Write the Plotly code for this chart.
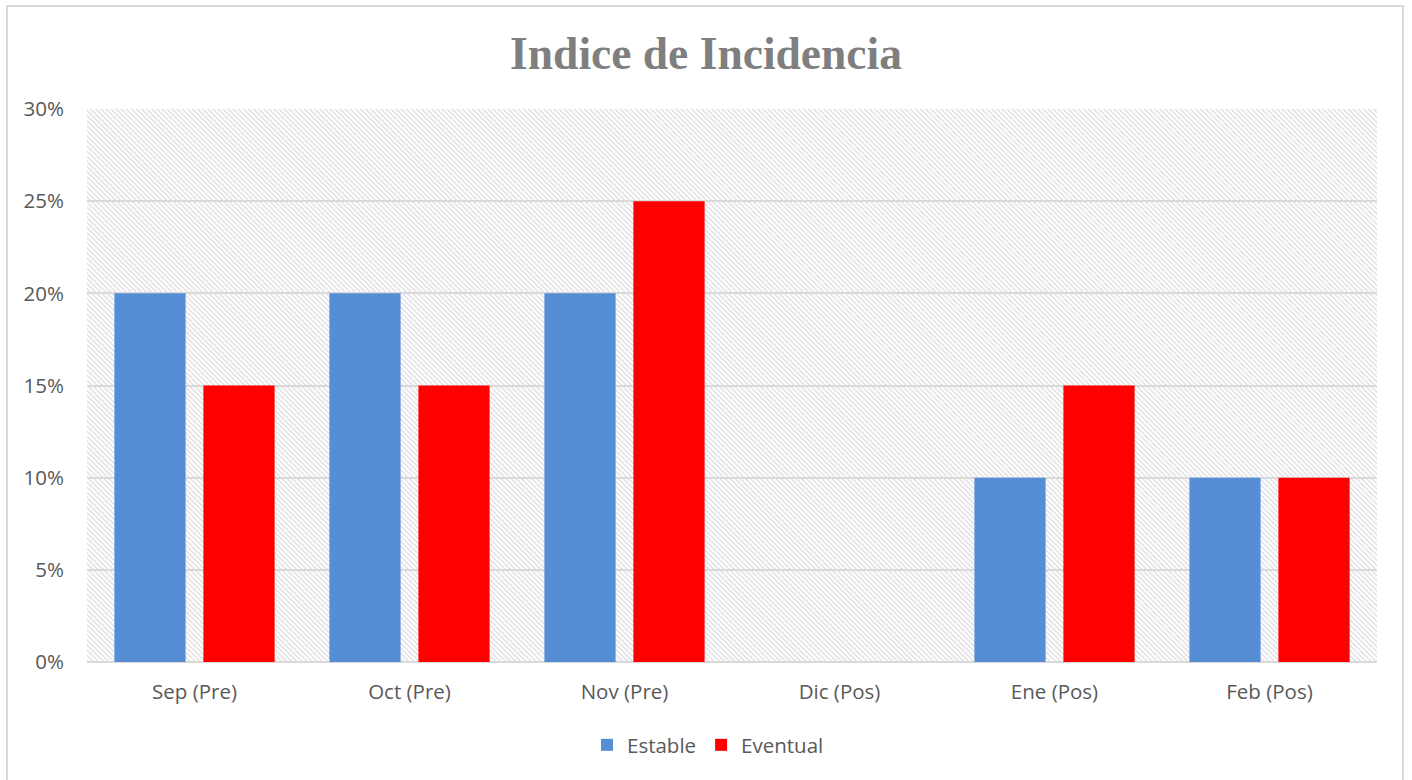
import base64
import plotly.graph_objects as go

categories = ["Sep (Pre)", "Oct (Pre)", "Nov (Pre)", "Dic (Pos)", "Ene (Pos)", "Feb (Pos)"]
estable = [0.20, 0.20, 0.20, 0.0, 0.10, 0.10]
eventual = [0.15, 0.15, 0.25, 0.0, 0.15, 0.10]
y_ticks = [0, 0.05, 0.10, 0.15, 0.20, 0.25, 0.30]
y_tick_labels = ["0%", "5%", "10%", "15%", "20%", "25%", "30%"]

W, H = 1412, 780
ML, MR, MT, MB = 87, 35, 109, 118
PW, PH = W - ML - MR, H - MT - MB

svg = f'''<svg xmlns="http://www.w3.org/2000/svg" width="{PW}" height="{PH}" viewBox="0 0 {PW} {PH}" preserveAspectRatio="none">
<defs><pattern id="h" patternUnits="userSpaceOnUse" width="3.6" height="3.6" patternTransform="rotate(45)">
<line x1="0" y1="1" x2="3.6" y2="1" stroke="#d9d9d9" stroke-width="1.2"/></pattern></defs>
<rect width="100%" height="100%" fill="#ffffff"/><rect width="100%" height="100%" fill="url(#h)"/></svg>'''
src = "data:image/svg+xml;base64," + base64.b64encode(svg.encode()).decode()

fig = go.Figure()
fig.add_trace(go.Bar(x=categories, y=estable, name="Estable", marker=dict(color="#558ED5", line=dict(width=0))))
fig.add_trace(go.Bar(x=categories, y=eventual, name="Eventual", marker=dict(color="#FF0000", line=dict(width=0))))

tick_font = dict(family="Open Sans", size=20.5, color="#595959")

fig.update_layout(
    width=W, height=H,
    margin=dict(l=ML, r=MR, t=MT, b=MB),
    paper_bgcolor="white", plot_bgcolor="rgba(0,0,0,0)",
    barmode="group", bargap=0.172, bargroupgap=0.2,
    title=dict(text="<b>Indice de Incidencia</b>", x=0.5, xref="container", xanchor="center",
               y=1 - 53 / H, yref="container", yanchor="middle",
               font=dict(family="Liberation Serif", size=45.5, color="#7f7f7f")),
    xaxis=dict(tickfont=tick_font, showgrid=False, showline=False, zeroline=False, ticks="",
               ticklabelstandoff=15),
    yaxis=dict(range=[0, 0.30], tickvals=y_ticks, ticktext=y_tick_labels, tickfont=tick_font,
               showgrid=True, gridcolor="#d9d9d9", gridwidth=1.5,
               zeroline=True, zerolinecolor="#d9d9d9", zerolinewidth=2,
               showline=False, ticks="", ticklabelstandoff=22),
    legend=dict(orientation="h", x=(708 - ML) / PW, xanchor="center", y=(MT + PH - 745) / PH, yanchor="middle",
                font=dict(family="Open Sans", size=20.5, color="#595959"), itemwidth=30,
                traceorder="normal"),
    images=[dict(source=src, xref="paper", yref="paper", x=0, y=1, sizex=1, sizey=1,
                 sizing="stretch", xanchor="left", yanchor="top", layer="below")],
    shapes=[dict(type="rect", xref="paper", yref="paper",
                 x0=(7 - ML) / PW, x1=(1403 - ML) / PW,
                 y0=(MT + PH - 800) / PH, y1=(MT + PH - 6) / PH,
                 line=dict(color="#d9d9d9", width=2), fillcolor="rgba(0,0,0,0)", layer="below")],
)

fig.write_html("out.html", config={"displayModeBar": False},
               post_script="document.body.style.margin='0';document.body.style.overflow='hidden';")
